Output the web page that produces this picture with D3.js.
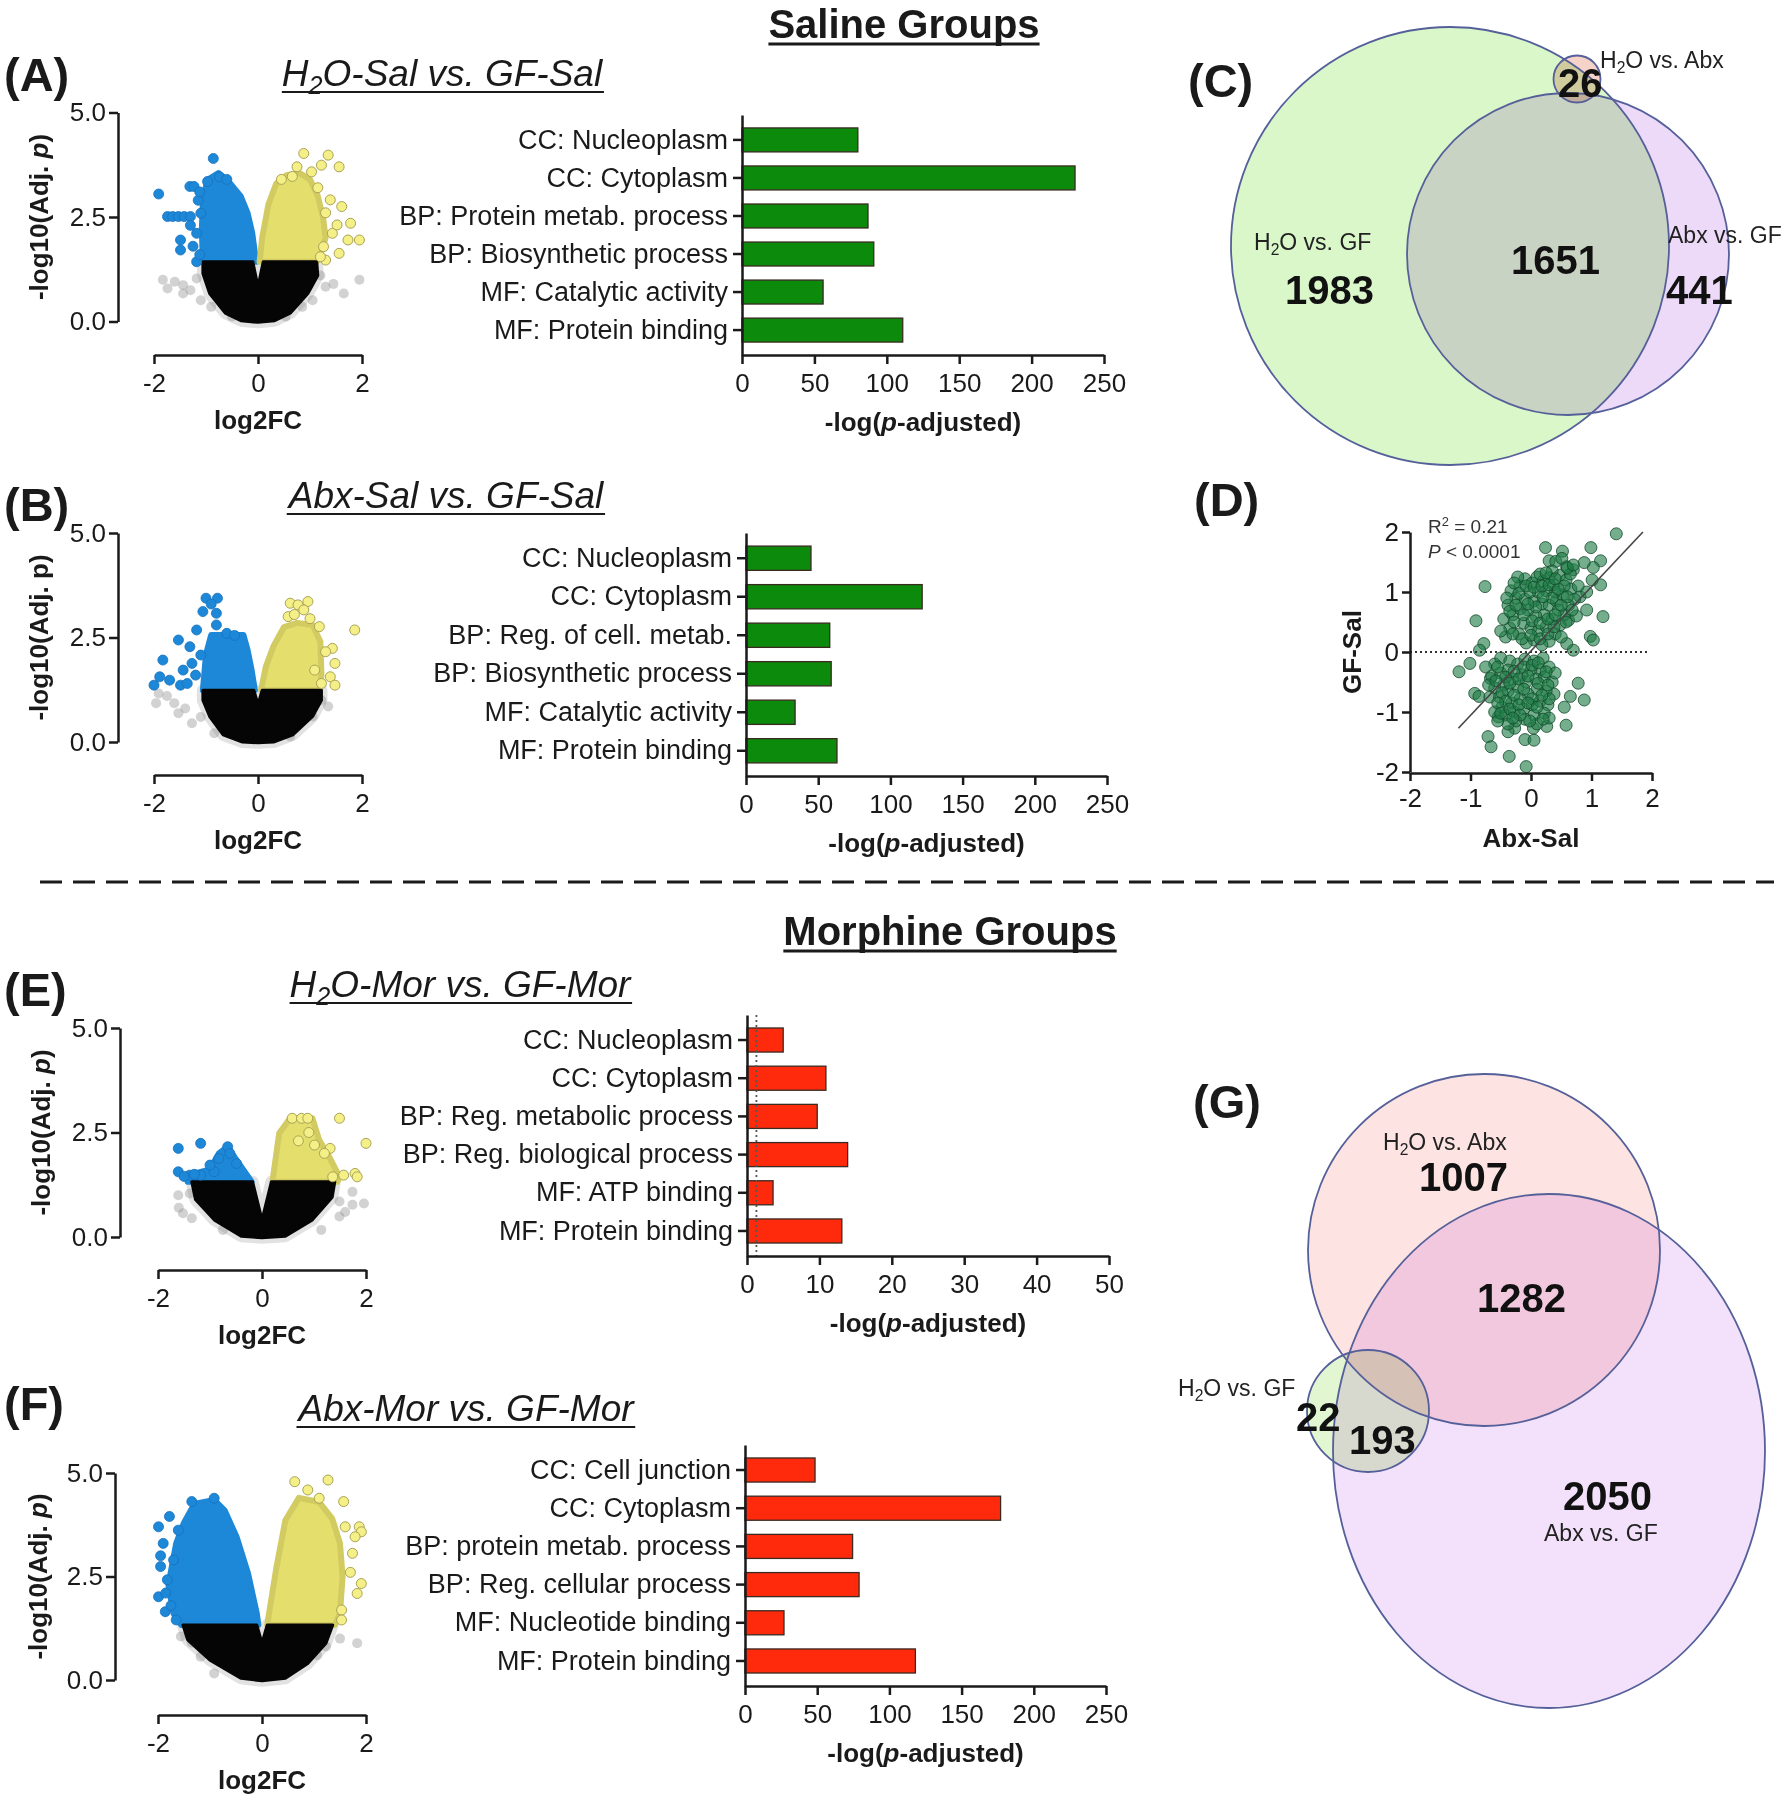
<!DOCTYPE html>
<html><head><meta charset="utf-8">
<script src="https://cdn.jsdelivr.net/npm/d3@7"></script>
<style>body{margin:0;background:#fff}</style>
</head><body>
<svg id="fig" width="1790" height="1800" xmlns="http://www.w3.org/2000/svg"></svg>
<script>
// ================= DATA =================
const sectionTitles = ["Saline Groups", "Morphine Groups"];
const panelLetters = ["(A)", "(B)", "(C)", "(D)", "(E)", "(F)", "(G)"];

const volcanoXTicks = [-2, 0, 2];
const volcanoYTicks = [0, 2.5, 5];
const barTicksWide = [0, 50, 100, 150, 200, 250];
const barTicksNarrow = [0, 10, 20, 30, 40, 50];
const scatterTicks = [-2, -1, 0, 1, 2];

const titleA = [{t:"H"},{t:"2",sub:true},{t:"O-Sal vs. GF-Sal"}];
const titleB = [{t:"Abx-Sal vs. GF-Sal"}];
const titleE = [{t:"H"},{t:"2",sub:true},{t:"O-Mor vs. GF-Mor"}];
const titleF = [{t:"Abx-Mor vs. GF-Mor"}];

const catsA = ["CC: Nucleoplasm","CC: Cytoplasm","BP: Protein metab. process","BP: Biosynthetic process","MF: Catalytic activity","MF: Protein binding"];
const valsA = [80, 230, 87, 91, 56, 111];
const catsB = ["CC: Nucleoplasm","CC: Cytoplasm","BP: Reg. of cell. metab.","BP: Biosynthetic process","MF: Catalytic activity","MF: Protein binding"];
const valsB = [45, 122, 58, 59, 34, 63];
const catsE = ["CC: Nucleoplasm","CC: Cytoplasm","BP: Reg. metabolic process","BP: Reg. biological process","MF: ATP binding","MF: Protein binding"];
const valsE = [5.0, 10.9, 9.7, 13.9, 3.6, 13.1];
const thresholdE = 1.3;
const catsF = ["CC: Cell junction","CC: Cytoplasm","BP: protein metab. process","BP: Reg. cellular process","MF: Nucleotide binding","MF: Protein binding"];
const valsF = [48.5, 177, 74.5, 79, 27, 118];

// volcano A  [log2FC, -log10 adj p]
const volA_core = [[-1.06,1.43],[-0.1,1.43],[0,0.83],[0.1,1.43],[1.13,1.43],[1.15,1.1],[0.96,0.67],[0.62,0.2],[0.32,0.02],[0,-0.02],[-0.33,0.02],[-0.63,0.2],[-0.93,0.67],[-1.06,1.15]];
const volA_blueArea = [[-1.06,1.43],[-1.08,2.2],[-1.06,2.91],[-0.97,3.39],[-0.76,3.55],[-0.54,3.31],[-0.33,2.99],[-0.2,2.59],[-0.11,2.11],[-0.05,1.55],[-0.03,1.43]];
const volA_yellowArea = [[0.03,1.43],[0.08,2.0],[0.2,2.8],[0.35,3.3],[0.55,3.5],[0.8,3.55],[1.0,3.4],[1.15,3.0],[1.25,2.5],[1.3,2.0],[1.2,1.6],[1.13,1.43]];
const volA_blue = [[-1.91,3.05],[-1.74,2.51],[-1.64,2.51],[-1.53,2.51],[-1.42,2.51],[-1.3,2.51],[-1.31,3.23],[-1.23,3.23],[-1.49,1.95],[-1.49,1.71],[-1.18,2.11],[-1.18,1.43],[-0.86,3.9],[-0.74,3.46],[-0.97,3.35],[-1.1,2.59],[-1.15,2.9],[-1.25,1.8],[-1.3,2.3],[-1.12,1.6],[-1.12,3.1],[-0.6,3.4]];
const volA_yellow = [[0.88,4.02],[1.35,3.98],[1.22,3.74],[1.56,3.7],[1.03,3.58],[0.66,3.47],[1.39,2.91],[1.61,2.75],[1.78,2.35],[1.95,1.95],[1.73,1.95],[1.56,1.63],[1.26,1.79],[1.43,2.11],[1.3,1.47],[1.52,2.31],[0.75,3.7],[1.15,3.2],[1.3,2.6],[0.45,3.4],[1.2,1.55]];
const volA_grey = [[-1.83,1.0],[-1.74,0.79],[-1.44,0.87],[-1.44,0.67],[-1.1,0.51],[1.95,1.0],[1.65,0.67],[1.3,0.83],[1.05,0.51],[-1.18,1.03],[-0.5,0.12],[0.53,0.12],[-1.6,0.95],[-1.3,0.75],[1.45,0.9],[1.2,1.1],[-0.9,0.35],[0.85,0.35]];

// volcano B
const volB_core = [[-1.06,1.24],[-0.08,1.24],[0,0.9],[0.08,1.24],[1.22,1.24],[1.22,1.0],[1.05,0.61],[0.67,0.17],[0.3,0.0],[0,-0.02],[-0.3,0.0],[-0.67,0.17],[-0.93,0.61],[-1.06,1.0]];
const volB_blueArea = [[-1.06,1.24],[-1.0,2.1],[-0.9,2.56],[-0.28,2.56],[-0.2,2.2],[-0.12,1.7],[-0.06,1.24]];
const volB_yellowArea = [[0.06,1.24],[0.15,1.8],[0.3,2.3],[0.5,2.75],[0.75,2.85],[1.05,2.8],[1.2,2.4],[1.22,1.6],[1.18,1.24]];
const volB_blue = [[-2.0,1.36],[-1.89,1.56],[-1.83,1.96],[-1.53,2.44],[-1.7,1.48],[-1.49,1.36],[-1.31,2.28],[-1.18,2.68],[-1.06,3.12],[-1.0,3.44],[-0.78,3.44],[-0.8,3.08],[-0.8,2.8],[-1.27,1.88],[-1.44,1.72],[-1.36,1.4],[-1.1,2.08],[-0.9,3.3],[-1.2,1.6],[-0.6,2.6],[-0.45,2.55]];
const volB_yellow = [[0.62,3.32],[0.77,3.28],[0.96,3.36],[0.88,3.16],[0.58,3.0],[1.86,2.68],[1.18,2.76],[1.43,2.24],[1.3,2.16],[1.48,1.88],[1.39,1.56],[1.48,1.36],[1.22,1.4],[1.09,1.72],[0.7,3.05],[1.0,2.95]];
const volB_grey = [[-1.96,0.93],[-1.91,1.16],[-1.61,0.93],[-1.53,0.69],[-1.27,0.45],[-0.84,0.21],[1.22,1.0],[1.05,0.61],[0.62,0.13],[-1.75,1.1],[-1.4,0.8],[1.35,0.85],[-1.1,0.6]];

// volcano E
const volE_core = [[-1.35,1.32],[-0.18,1.32],[0,0.41],[0.18,1.32],[1.4,1.32],[1.35,0.95],[0.97,0.41],[0.45,0.02],[0,-0.02],[-0.4,0.02],[-0.92,0.41],[-1.28,0.9]];
const volE_blueArea = [[-1.43,1.32],[-1.35,1.5],[-1.0,1.62],[-0.83,2.0],[-0.66,2.16],[-0.49,1.84],[-0.3,1.5],[-0.2,1.32]];
const volE_yellowArea = [[0.2,1.32],[0.33,2.48],[0.54,2.84],[0.97,2.84],[1.1,2.32],[1.3,1.9],[1.49,1.44],[1.45,1.32]];
const volE_blue = [[-1.61,2.12],[-1.61,1.56],[-1.18,2.24],[-1.39,1.48],[-1.18,1.48],[-0.92,1.56],[-0.66,2.16],[-0.62,2.0],[-0.83,1.88],[-0.49,1.76],[-1.0,1.72],[-1.5,1.45],[-1.3,1.5]];
const volE_yellow = [[0.58,2.84],[0.76,2.84],[0.88,2.84],[1.49,2.84],[2.0,2.24],[1.31,2.12],[1.79,1.52],[1.83,1.44],[1.57,1.48],[1.36,1.44],[1.01,2.2],[0.9,2.5],[1.2,2.0],[0.7,2.3]];
const volE_grey = [[-1.61,1.0],[-1.39,1.04],[-1.52,0.57],[-1.35,0.45],[1.74,1.08],[1.96,0.8],[1.74,0.77],[1.49,0.85],[1.49,0.49],[1.14,0.17],[-0.75,0.17],[-1.6,0.7],[1.6,0.6]];

// volcano F
const volF_core = [[-1.52,1.33],[-0.1,1.33],[0,0.89],[0.1,1.33],[1.36,1.33],[1.23,0.89],[0.88,0.4],[0.45,0.04],[0,-0.02],[-0.4,0.04],[-1.0,0.48],[-1.43,0.97]];
const volF_blueArea = [[-1.55,1.33],[-1.7,1.6],[-1.8,2.3],[-1.65,3.3],[-1.5,3.8],[-1.3,4.25],[-0.92,4.35],[-0.72,4.1],[-0.49,3.46],[-0.27,2.58],[-0.1,1.61],[-0.07,1.33]];
const volF_yellowArea = [[0.1,1.33],[0.28,2.74],[0.45,3.86],[0.71,4.4],[1.1,4.3],[1.35,3.9],[1.5,3.3],[1.55,2.5],[1.5,1.61],[1.4,1.33]];
const volF_blue = [[-1.99,3.7],[-1.95,2.74],[-1.99,2.01],[-1.86,1.65],[-1.78,3.95],[-1.61,3.62],[-1.82,2.42],[-1.65,1.45],[-1.9,3.3],[-1.85,2.1],[-1.7,2.9],[-1.35,4.31],[-0.92,4.39],[-1.95,3.0],[-1.75,1.8]];
const volF_yellow = [[0.63,4.79],[1.27,4.83],[0.88,4.59],[1.1,4.39],[1.57,4.31],[1.87,3.7],[1.91,3.58],[1.79,3.46],[1.91,2.33],[1.83,2.09],[1.53,1.69],[1.53,1.45],[1.74,3.06],[1.7,2.6],[1.6,3.7]];
const volF_grey = [[-1.56,1.05],[-1.09,0.72],[-1.18,0.56],[1.83,0.89],[1.23,0.81],[1.06,0.6],[-0.92,0.16],[-1.35,0.9],[1.5,1.0]];

// scatter D  [Abx-Sal, GF-Sal]
const scatterD = [
 [1.41,1.97],[0.24,1.74],[0.52,1.68],[0.99,1.74],[1.15,1.52],[1.03,1.41],[0.88,1.49],[0.3,1.52],[0.41,1.51],[0.51,1.56],
 [1.15,1.12],[1.01,1.2],[-0.76,1.09],[-0.91,0.52],[1.19,0.59],[0.98,0.26],[1.03,0.2],[-1.19,-0.33],[-1.01,-0.19],[-0.78,0.14],
 [-0.85,0.03],[-0.93,-0.69],[-0.86,-0.74],[-0.67,-0.44],[0.88,-0.8],[0.78,-0.52],[0.65,-0.74],[0.58,-1.22],[0.26,-1.24],[0.55,-0.92],
 [-0.71,-1.41],[-0.66,-1.58],[-0.36,-1.74],[-0.08,-1.91],[-0.1,-1.46],[0.05,-1.47],[-0.27,-1.27],[-0.38,-1.33],[0.04,-1.27],[-0.54,-1.08],
 [0.7,0.03],[0.59,0.14],[0.62,0.53],[0.81,0.92],[0.92,0.7],[0.92,1.0],[0.7,1.37],[0.59,1.42],
 [-0.42,0.25],[-0.35,0.4],[-0.45,0.55],[-0.3,0.62],[-0.38,0.78],[-0.25,0.9],[-0.33,1.02],[-0.18,1.1],[-0.1,1.22],[0.02,1.15],
 [0.1,1.25],[0.2,1.18],[0.3,1.24],[0.38,1.12],[0.48,1.28],[0.58,1.2],[0.66,1.05],[0.72,0.88],[0.62,0.78],[0.55,0.62],
 [0.48,0.45],[0.4,0.3],[0.3,0.18],[0.18,0.12],[0.05,0.2],[-0.08,0.15],[-0.2,0.3],[-0.12,0.48],[0.0,0.4],[0.12,0.35],
 [0.25,0.42],[0.35,0.55],[0.22,0.62],[0.08,0.6],[-0.05,0.7],[-0.18,0.72],[-0.1,0.88],[0.05,0.85],[0.18,0.8],[0.3,0.78],
 [0.42,0.85],[0.52,0.95],[0.4,1.0],[0.25,1.02],[0.12,1.0],[-0.02,1.0],[0.55,1.1],[0.65,1.3],[0.45,0.7],[-0.28,0.5],
 [-0.22,1.25],[0.35,1.35],[0.15,1.3],[0.6,1.4],[0.7,1.45],[0.78,1.1],[0.75,0.6],[-0.4,0.9],[-0.5,0.35],[0.5,0.25],
 [-0.3,0.3],[-0.15,0.22],[0.0,0.28],[0.15,0.22],[0.28,0.3],[0.38,0.42],[-0.35,0.68],[-0.25,0.78],[-0.12,0.62],[0.02,0.52],
 [0.15,0.48],[0.28,0.55],[0.4,0.62],[0.5,0.78],[0.35,0.9],[0.2,0.92],[0.08,0.75],[-0.05,0.8],[-0.2,0.98],[-0.08,1.1],
 [0.05,1.08],[0.18,1.1],[0.3,1.12],[0.45,1.05],[0.6,0.92],[0.68,0.7],[0.58,0.5],[-0.28,1.15],[0.4,1.22],[0.25,1.32],
 [-0.6,-0.2],[-0.5,-0.1],[-0.35,-0.15],[-0.65,-0.4],[-0.5,-0.35],[-0.38,-0.3],[-0.22,-0.2],[-0.1,-0.12],[0.05,-0.15],[0.2,-0.1],
 [0.3,-0.25],[0.15,-0.3],[0.0,-0.3],[-0.15,-0.38],[-0.3,-0.45],[-0.45,-0.55],[-0.6,-0.6],[-0.68,-0.75],[-0.52,-0.75],[-0.38,-0.65],
 [-0.22,-0.58],[-0.08,-0.5],[0.08,-0.45],[0.22,-0.42],[0.35,-0.5],[0.38,-0.7],[0.25,-0.65],[0.1,-0.62],[-0.05,-0.7],[-0.18,-0.78],
 [-0.32,-0.85],[-0.48,-0.92],[-0.6,-1.0],[-0.42,-1.05],[-0.28,-1.0],[-0.12,-0.95],[0.02,-0.88],[0.15,-0.82],[0.28,-0.88],[0.22,-1.02],
 [0.05,-1.05],[-0.1,-1.12],[-0.25,-1.15],[-0.38,-1.2],[0.1,-1.2],[0.3,-1.1],[-0.55,-1.15],[-0.7,-0.55],[0.4,-0.35],[-0.75,-0.25],
 [-0.55,-0.25],[-0.42,-0.42],[-0.28,-0.32],[-0.12,-0.25],[0.02,-0.22],[0.12,-0.18],[0.25,-0.33],[-0.58,-0.48],[-0.48,-0.68],[-0.35,-0.52],
 [-0.2,-0.45],[-0.05,-0.4],[0.12,-0.52],[0.28,-0.55],[0.3,-0.78],[0.18,-0.72],[0.02,-0.78],[-0.12,-0.62],[-0.28,-0.72],[-0.42,-0.82],
 [-0.55,-0.85],[-0.5,-1.02],[-0.35,-0.95],[-0.2,-0.88],[-0.05,-0.85],[0.1,-0.92],[0.2,-1.12],[-0.02,-1.15],[-0.18,-1.05],[-0.3,-1.1]
];
const regLineD = [[-1.2,-1.27],[1.85,2.0]];
const zeroLineD = [[-2,0],[1.95,0]];
const statsD = [[{t:"R"},{t:"2",sup:true},{t:" = 0.21"}], [{t:"P",it:true},{t:" < 0.0001"}]];

// Venn texts
const vennC_names = [[{t:"H"},{t:"2",sub:true},{t:"O vs. Abx"}], [{t:"H"},{t:"2",sub:true},{t:"O vs. GF"}], [{t:"Abx vs. GF"}]];
const vennC_counts = ["26", "1983", "1651", "441"];
const vennG_names = [[{t:"H"},{t:"2",sub:true},{t:"O vs. Abx"}], [{t:"H"},{t:"2",sub:true},{t:"O vs. GF"}], [{t:"Abx vs. GF"}]];
const vennG_counts = ["1007", "1282", "22", "193", "2050"];

// ================= DRAWING =================
const FONT = '"Liberation Sans", Arial, Helvetica, sans-serif';
const INK = "#1a1a1a";
const svg = d3.select("#fig").attr("font-family", FONT);

function rich(textSel, pieces, fs) {
  let shift = 0;
  pieces.forEach(p => {
    const ts = textSel.append("tspan").text(p.t);
    let target = 0;
    if (p.sub) { ts.attr("font-size", fs * 0.68); target = fs * 0.22; }
    else if (p.sup) { ts.attr("font-size", fs * 0.68); target = -fs * 0.38; }
    if (target - shift !== 0) ts.attr("dy", target - shift);
    shift = target;
    if (p.it) ts.attr("font-style", "italic");
  });
}

function styleAxis(g, fs) {
  g.attr("font-family", FONT).attr("font-size", fs);
  g.select(".domain").attr("stroke", INK).attr("stroke-width", 2.5);
  g.selectAll(".tick line").attr("stroke", INK).attr("stroke-width", 2.5);
  g.selectAll(".tick text").attr("fill", INK);
}

function underlinedTitle(x, y, pieces, fs, opts) {
  const t = svg.append("text").attr("x", x).attr("y", y).attr("text-anchor", "middle")
    .attr("font-size", fs).attr("fill", INK);
  if (opts.italic) t.attr("font-style", "italic");
  if (opts.bold) t.attr("font-weight", "bold");
  rich(t, pieces, fs);
  const bb = t.node().getBBox();
  svg.append("line").attr("x1", bb.x).attr("x2", bb.x + bb.width)
    .attr("y1", y + opts.ul).attr("y2", y + opts.ul)
    .attr("stroke", INK).attr("stroke-width", opts.ulw);
}

// section titles & separator
underlinedTitle(904, 38, [{t: sectionTitles[0]}], 40, {bold: true, ul: 6, ulw: 3});
underlinedTitle(950, 945, [{t: sectionTitles[1]}], 40, {bold: true, ul: 6, ulw: 3});
svg.append("line").attr("x1", 40).attr("x2", 1774).attr("y1", 882).attr("y2", 882)
  .attr("stroke", INK).attr("stroke-width", 3).attr("stroke-dasharray", "22,11");

// panel letters
const letterPos = [[4, 91], [4, 521], [1188, 97], [1194, 516], [4, 1006], [4, 1420], [1193, 1118]];
panelLetters.forEach((L, i) => {
  svg.append("text").attr("x", letterPos[i][0]).attr("y", letterPos[i][1])
    .attr("font-size", 47).attr("font-weight", "bold").attr("fill", INK).text(L);
});

// ---------- volcano ----------
function drawVolcano(L, D) {
  const x = d3.scaleLinear().domain([-2, 2]).range([L.x0, L.x1]);
  const y = d3.scaleLinear().domain([0, 5]).range([L.yBottom, L.yTop]);
  const g = svg.append("g");
  const poly = d3.line().x(d => x(d[0])).y(d => y(d[1])).curve(d3.curveLinearClosed);
  const R = 5;
  g.selectAll(null).data(D.grey).join("circle")
    .attr("cx", d => x(d[0])).attr("cy", d => y(d[1])).attr("r", R)
    .attr("fill", "#9c9c9c").attr("fill-opacity", 0.45);
  g.append("path").datum(D.core).attr("d", poly)
    .attr("fill", "none").attr("stroke", "#8a8a8a").attr("stroke-opacity", 0.25)
    .attr("stroke-width", 12).attr("stroke-linejoin", "round");
  g.append("path").datum(D.blueArea).attr("d", poly)
    .attr("fill", "#1e88d8").attr("stroke", "#1e88d8").attr("stroke-width", 6).attr("stroke-linejoin", "round");
  g.append("path").datum(D.yellowArea).attr("d", poly)
    .attr("fill", "#e4de6c").attr("stroke", "#d2cb62").attr("stroke-width", 6).attr("stroke-linejoin", "round");
  g.append("path").datum(D.core).attr("d", poly)
    .attr("fill", "#050505").attr("stroke", "#050505").attr("stroke-width", 3).attr("stroke-linejoin", "round");
  g.selectAll(null).data(D.blue).join("circle")
    .attr("cx", d => x(d[0])).attr("cy", d => y(d[1])).attr("r", R)
    .attr("fill", "#1e88d8").attr("stroke", "#1670bd").attr("stroke-width", 0.8);
  g.selectAll(null).data(D.yellow).join("circle")
    .attr("cx", d => x(d[0])).attr("cy", d => y(d[1])).attr("r", R)
    .attr("fill", "#f4ef86").attr("stroke", "#aaa356").attr("stroke-width", 1);

  const ya = svg.append("g").attr("transform", `translate(${L.yAxisX},0)`)
    .call(d3.axisLeft(y).tickValues(volcanoYTicks).tickFormat(d3.format(".1f")).tickSize(9).tickSizeOuter(0).tickPadding(3));
  styleAxis(ya, 26);
  const xa = svg.append("g").attr("transform", `translate(0,${L.xAxisY})`)
    .call(d3.axisBottom(x).tickValues(volcanoXTicks).tickFormat(d => String(d)).tickSize(9).tickSizeOuter(0).tickPadding(10));
  styleAxis(xa, 26);

  svg.append("text").attr("x", (L.x0 + L.x1) / 2).attr("y", L.xAxisY + 74)
    .attr("text-anchor", "middle").attr("font-size", 26).attr("font-weight", "bold").attr("fill", INK).text("log2FC");
  const yt = svg.append("text")
    .attr("transform", `translate(${L.yTitleX},${(L.yTop + L.yBottom) / 2}) rotate(-90)`)
    .attr("text-anchor", "middle").attr("font-size", 26).attr("font-weight", "bold").attr("fill", INK);
  rich(yt, [{t: "-log10(Adj. "}, {t: "p", it: L.italicP}, {t: ")"}], 26);

  underlinedTitle(L.titleX, L.titleY, L.title, 37, {italic: true, ul: 6, ulw: 2.2});
}

drawVolcano({x0:154, x1:362, yTop:112.5, yBottom:321.5, yAxisX:118, xAxisY:355, yTitleX:48, titleX:442, titleY:86, title:titleA, italicP:true},
  {core:volA_core, blueArea:volA_blueArea, yellowArea:volA_yellowArea, blue:volA_blue, yellow:volA_yellow, grey:volA_grey});
drawVolcano({x0:154, x1:362, yTop:533, yBottom:742, yAxisX:118, xAxisY:775, yTitleX:48, titleX:446, titleY:508, title:titleB, italicP:false},
  {core:volB_core, blueArea:volB_blueArea, yellowArea:volB_yellowArea, blue:volB_blue, yellow:volB_yellow, grey:volB_grey});
drawVolcano({x0:158, x1:366, yTop:1028, yBottom:1237, yAxisX:120, xAxisY:1270, yTitleX:50, titleX:460, titleY:997, title:titleE, italicP:true},
  {core:volE_core, blueArea:volE_blueArea, yellowArea:volE_yellowArea, blue:volE_blue, yellow:volE_yellow, grey:volE_grey});
drawVolcano({x0:158, x1:366, yTop:1473, yBottom:1680, yAxisX:115, xAxisY:1715, yTitleX:47, titleX:466, titleY:1421, title:titleF, italicP:true},
  {core:volF_core, blueArea:volF_blueArea, yellowArea:volF_yellowArea, blue:volF_blue, yellow:volF_yellow, grey:volF_grey});

// ---------- bar charts ----------
function drawBars(L, cats, vals, ticks, color, threshold) {
  const x = d3.scaleLinear().domain([0, ticks[ticks.length - 1]]).range([L.x0, L.x1]);
  const y = d3.scaleBand().domain(cats).range([L.top, L.bottom]).paddingInner(0.37).paddingOuter(0.34);
  const g = svg.append("g");
  g.selectAll(null).data(cats).join("rect")
    .attr("x", x(0)).attr("y", d => y(d))
    .attr("width", (d, i) => x(vals[i]) - x(0)).attr("height", y.bandwidth())
    .attr("fill", color).attr("stroke", "#3a2a20").attr("stroke-width", 1.3);
  if (threshold != null) {
    g.append("line").attr("x1", x(threshold)).attr("x2", x(threshold))
      .attr("y1", L.top).attr("y2", L.bottom)
      .attr("stroke", "#555").attr("stroke-width", 1.8).attr("stroke-dasharray", "2,3");
  }
  const ya = svg.append("g").attr("transform", `translate(${L.x0},0)`)
    .call(d3.axisLeft(y).tickSize(9).tickSizeOuter(0).tickPadding(5));
  styleAxis(ya, 27);
  const xa = svg.append("g").attr("transform", `translate(0,${L.bottom})`)
    .call(d3.axisBottom(x).tickValues(ticks).tickFormat(d => String(d)).tickSize(9).tickSizeOuter(0).tickPadding(10));
  styleAxis(xa, 26);
  const t = svg.append("text").attr("x", (L.x0 + L.x1) / 2).attr("y", L.bottom + 76)
    .attr("text-anchor", "middle").attr("font-size", 26).attr("font-weight", "bold").attr("fill", INK);
  rich(t, [{t: "-log("}, {t: "p", it: true}, {t: "-adjusted)"}], 26);
}
const GREEN = "#0b8a0b", RED = "#ff2a0c";
drawBars({x0:742, x1:1104, top:115, bottom:355}, catsA, valsA, barTicksWide, GREEN, null);
drawBars({x0:746, x1:1107, top:533, bottom:776}, catsB, valsB, barTicksWide, GREEN, null);
drawBars({x0:747, x1:1109, top:1015, bottom:1256}, catsE, valsE, barTicksNarrow, RED, thresholdE);
drawBars({x0:745, x1:1106, top:1445, bottom:1686}, catsF, valsF, barTicksWide, RED, null);

// ---------- scatter D ----------
(function () {
  const L = {x0:1410, x1:1652, yTop:532, yBottom:772};
  const x = d3.scaleLinear().domain([-2, 2]).range([L.x0, L.x1]);
  const y = d3.scaleLinear().domain([-2, 2]).range([L.yBottom, L.yTop]);
  const g = svg.append("g");
  const ln = d3.line().x(d => x(d[0])).y(d => y(d[1]));
  g.selectAll(null).data(scatterD).join("circle")
    .attr("cx", d => x(d[0])).attr("cy", d => y(d[1])).attr("r", 6)
    .attr("fill", "#1f7d47").attr("fill-opacity", 0.62)
    .attr("stroke", "#134a2b").attr("stroke-opacity", 0.8).attr("stroke-width", 1);
  g.append("path").datum(zeroLineD).attr("d", ln).attr("stroke", "#333").attr("stroke-width", 1.8)
    .attr("stroke-dasharray", "2,3").attr("fill", "none");
  g.append("path").datum(regLineD).attr("d", ln).attr("stroke", "#444").attr("stroke-width", 1.6).attr("fill", "none");
  const ya = svg.append("g").attr("transform", `translate(${L.x0},0)`)
    .call(d3.axisLeft(y).tickValues(scatterTicks).tickFormat(d => String(d)).tickSize(8).tickSizeOuter(0).tickPadding(3));
  styleAxis(ya, 26);
  const xa = svg.append("g").attr("transform", `translate(0,${L.yBottom + 1})`)
    .call(d3.axisBottom(x).tickValues(scatterTicks).tickFormat(d => String(d)).tickSize(8).tickSizeOuter(0).tickPadding(8));
  styleAxis(xa, 26);
  svg.append("text").attr("x", (L.x0 + L.x1) / 2).attr("y", 847).attr("text-anchor", "middle")
    .attr("font-size", 26).attr("font-weight", "bold").attr("fill", INK).text("Abx-Sal");
  svg.append("text").attr("transform", `translate(1361,${(L.yTop + L.yBottom) / 2}) rotate(-90)`)
    .attr("text-anchor", "middle").attr("font-size", 26).attr("font-weight", "bold").attr("fill", INK).text("GF-Sal");
  statsD.forEach((p, i) => {
    const t = svg.append("text").attr("x", 1428).attr("y", 533 + i * 25).attr("font-size", 19).attr("fill", "#333");
    rich(t, p, 19);
  });
})();

// ---------- Venn diagrams ----------
function venn(circles, labels) {
  const g = svg.append("g");
  circles.forEach(c => {
    g.append("ellipse").attr("cx", c.cx).attr("cy", c.cy).attr("rx", c.rx).attr("ry", c.ry)
      .attr("fill", c.fill).style("mix-blend-mode", "multiply");
  });
  circles.forEach(c => {
    g.append("ellipse").attr("cx", c.cx).attr("cy", c.cy).attr("rx", c.rx).attr("ry", c.ry)
      .attr("fill", "none").attr("stroke", "#55609a").attr("stroke-width", 1.8);
  });
  labels.forEach(l => {
    const t = svg.append("text").attr("x", l.x).attr("y", l.y).attr("font-size", l.fs)
      .attr("font-weight", l.bold ? "bold" : "normal").attr("fill", l.bold ? "#111" : "#222");
    rich(t, l.pieces, l.fs);
  });
}
venn([
  {cx:1450, cy:246, rx:219, ry:219, fill:"#d9f7c9"},
  {cx:1568, cy:254, rx:161, ry:161, fill:"#eddaf8"},
  {cx:1577, cy:79, rx:23.5, ry:23.5, fill:"#f6d3c9"}
], [
  {x:1600, y:68, fs:23, pieces:vennC_names[0]},
  {x:1254, y:250, fs:23, pieces:vennC_names[1]},
  {x:1668, y:243, fs:23, pieces:vennC_names[2]},
  {x:1558, y:97, fs:40, bold:true, pieces:[{t:vennC_counts[0]}]},
  {x:1285, y:304, fs:40, bold:true, pieces:[{t:vennC_counts[1]}]},
  {x:1511, y:274, fs:40, bold:true, pieces:[{t:vennC_counts[2]}]},
  {x:1666, y:304, fs:40, bold:true, pieces:[{t:vennC_counts[3]}]}
]);
venn([
  {cx:1484, cy:1250, rx:176, ry:176, fill:"#fde3e1"},
  {cx:1549, cy:1451, rx:216, ry:257, fill:"#f3e1fb"},
  {cx:1368, cy:1411, rx:61, ry:61, fill:"#e3f6d2"}
], [
  {x:1383, y:1150, fs:23, pieces:vennG_names[0]},
  {x:1178, y:1396, fs:23, pieces:vennG_names[1]},
  {x:1544, y:1541, fs:23, pieces:vennG_names[2]},
  {x:1419, y:1191, fs:40, bold:true, pieces:[{t:vennG_counts[0]}]},
  {x:1477, y:1312, fs:40, bold:true, pieces:[{t:vennG_counts[1]}]},
  {x:1296, y:1431, fs:40, bold:true, pieces:[{t:vennG_counts[2]}]},
  {x:1349, y:1454, fs:40, bold:true, pieces:[{t:vennG_counts[3]}]},
  {x:1563, y:1510, fs:40, bold:true, pieces:[{t:vennG_counts[4]}]}
]);
</script>
</body></html>
